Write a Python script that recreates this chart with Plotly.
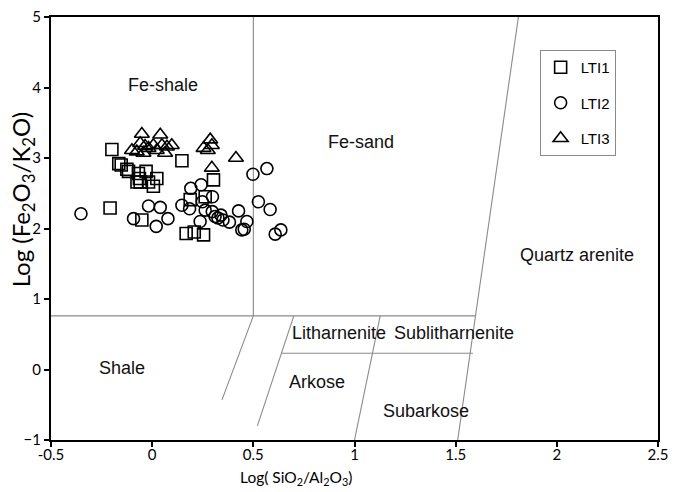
import plotly.graph_objects as go

# ---- Sample data: log(SiO2/Al2O3) vs log(Fe2O3/K2O) ----
lti1_x = [-0.199, 0.147, -0.153, -0.125, -0.117, -0.068, -0.030, -0.063, -0.059,
          -0.018, 0.023, 0.006, 0.303, -0.208, -0.051, 0.188, 0.262, 0.168, 0.208, 0.254,
          -0.165, -0.075]
lti1_y = [3.12, 2.96, 2.90, 2.84, 2.81, 2.78, 2.81, 2.71, 2.66,
          2.66, 2.71, 2.60, 2.69, 2.29, 2.12, 2.41, 2.45, 1.93, 1.95, 1.91,
          2.92, 2.66]

lti2_x = [-0.352, -0.092, -0.018, 0.040, 0.020, 0.078, 0.147, 0.185, 0.191, 0.242,
          0.237, 0.248, 0.298, 0.262, 0.297, 0.311, 0.340, 0.350, 0.382, 0.427,
          0.443, 0.455, 0.468, 0.498, 0.567, 0.525, 0.583, 0.608, 0.636, 0.325]
lti2_y = [2.21, 2.14, 2.32, 2.30, 2.03, 2.14, 2.33, 2.28, 2.57, 2.62,
          2.10, 2.38, 2.45, 2.26, 2.24, 2.17, 2.19, 2.12, 2.09, 2.25,
          1.98, 1.99, 2.10, 2.77, 2.85, 2.38, 2.27, 1.92, 1.98, 2.15]

lti3_x = [-0.051, 0.040, -0.100, -0.076, -0.043, -0.059, -0.035, -0.018, 0.006, 0.023,
          0.048, 0.073, 0.097, 0.064, 0.254, 0.287, 0.295, 0.275, 0.295, 0.414]
lti3_y = [3.34, 3.33, 3.11, 3.09, 3.07, 3.21, 3.17, 3.14, 3.18, 3.11,
          3.18, 3.16, 3.18, 3.07, 3.14, 3.26, 3.18, 3.11, 2.86, 3.00]

# ---- Classification field boundaries (Herron 1988) ----
boundary_x = [[-0.5, 1.598], [0.5, 0.5], [0.5, 0.345], [0.70, 0.52],
              [0.64, 1.585], [1.127, 1.0], [1.81, 1.51]]
boundary_y = [[0.76, 0.76], [5.0, 0.76], [0.76, -0.43], [0.76, -0.80],
              [0.23, 0.23], [0.76, -1.0], [5.0, -1.0]]

field_names = ["Fe-shale", "Fe-sand", "Quartz arenite", "Litharnenite",
               "Sublitharnenite", "Shale", "Arkose", "Subarkose"]
field_x = [0.053, 1.032, 2.098, 0.923, 1.491, -0.148, 0.816, 1.353]
field_y = [4.04, 3.23, 1.62, 0.513, 0.513, 0.02, -0.173, -0.585]

x_ticks = [-0.5, 0, 0.5, 1, 1.5, 2, 2.5]
x_tick_text = ["-0.5", "0", "0.5", "1", "1.5", "2", "2.5"]
y_ticks = [-1, 0, 1, 2, 3, 4, 5]

fig = go.Figure()

for bx, by in zip(boundary_x, boundary_y):
    fig.add_trace(go.Scatter(x=bx, y=by, mode="lines",
                             line=dict(color="#8a8a8a", width=1.1),
                             showlegend=False, hoverinfo="skip"))

marker_line = dict(color="black", width=1.6)
fig.add_trace(go.Scatter(x=lti1_x, y=lti1_y, mode="markers", name="LTI1",
                         legendgroup="g1",
                         marker=dict(symbol="square-open", size=12, color="black",
                                     line=marker_line)))
fig.add_trace(go.Scatter(x=lti2_x, y=lti2_y, mode="markers", name="LTI2",
                         legendgroup="g2",
                         marker=dict(symbol="circle-open", size=12, color="black",
                                     line=marker_line)))
fig.add_trace(go.Scatter(x=lti3_x, y=lti3_y, mode="markers", name="LTI3",
                         legendgroup="g3",
                         marker=dict(symbol="triangle-up-open", size=13, color="black",
                                     line=marker_line)))

for name, fx, fy in zip(field_names, field_x, field_y):
    fig.add_annotation(x=fx, y=fy, text=name, showarrow=False,
                       font=dict(family="Liberation Sans, Arial", size=18, color="#111"))

# axis titles
fig.add_annotation(xref="paper", yref="paper", x=0.404, y=-0.09,
                   text="Log( SiO<sub>2</sub>/Al<sub>2</sub>O<sub>3</sub>)",
                   showarrow=False, yanchor="middle",
                   font=dict(family="Lato", size=15.5, color="black"))
fig.add_annotation(xref="paper", yref="paper", x=-0.047, y=0.57,
                   text="Log (Fe<sub>2</sub>O<sub>3</sub>/K<sub>2</sub>O)",
                   showarrow=False, textangle=-90, xanchor="center",
                   font=dict(family="Lato", size=24, color="black"))

axis_common = dict(showgrid=False, zeroline=False, showline=True, linecolor="black",
                   linewidth=2, mirror=True, ticks="outside", ticklen=5,
                   tickwidth=1.5, tickcolor="black", automargin=False,
                   tickfont=dict(family="Lato", size=15, color="black"))

fig.update_xaxes(range=[-0.5, 2.5], tickvals=x_ticks, ticktext=x_tick_text,
                 ticklabelstandoff=-5, **axis_common)
fig.update_yaxes(range=[-1, 5], tickvals=y_ticks, **axis_common)

fig.update_layout(
    width=673, height=492,
    margin=dict(l=51, r=15, t=17, b=52, autoexpand=False),
    plot_bgcolor="white", paper_bgcolor="white",
    legend=dict(x=0.805, y=0.922, xanchor="left", yanchor="top",
                bordercolor="#8a8a8a", borderwidth=1, bgcolor="white",
                traceorder="grouped", tracegroupgap=13, itemwidth=30,
                font=dict(family="Liberation Sans, Arial", size=15, color="black")),
)

fig.write_html("out.html")
